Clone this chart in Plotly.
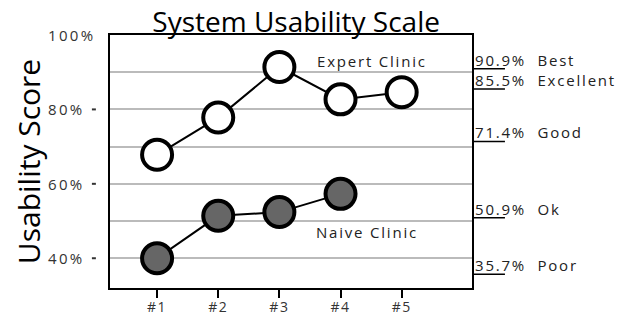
import plotly.graph_objects as go

sessions = [1, 2, 3, 4, 5]
tick_labels = ["#1", "#2", "#3", "#4", "#5"]
expert = [67.8, 77.8, 91.4, 82.7, 84.6]
naive_x = [1, 2, 3, 4]
naive = [40.0, 51.4, 52.4, 57.3]
ytick_vals = [40, 60, 80, 100]
ytick_text = ["40%", "60%", "80%", "100%"]
scale_vals = [90.9, 85.5, 71.4, 50.9, 35.7]
scale_names = ["Best", "Excellent", "Good", "Ok", "Poor"]

FONT = "Open Sans"
# the page body has an 8px margin; size the figure so it fits the 629x316 window
W, H = 621, 308


def sp(t, ls=1.5):
    return f'<span style="letter-spacing:{ls}px">{t}</span>'


fig = go.Figure()
fig.add_trace(go.Scatter(
    x=sessions, y=expert, mode="lines+markers",
    line=dict(color="black", width=2),
    marker=dict(size=30, color="white", line=dict(color="black", width=4)),
    showlegend=False))
fig.add_trace(go.Scatter(
    x=naive_x, y=naive, mode="lines+markers",
    line=dict(color="black", width=2),
    marker=dict(size=30, color="#666666", line=dict(color="black", width=4)),
    showlegend=False))

# series labels
fig.add_annotation(x=4.52, y=93.0, text=sp("Expert Clinic", 1.8), showarrow=False,
                   font=dict(family=FONT, size=15, color="#222"))
fig.add_annotation(x=4.44, y=47.0, text=sp("Naive Clinic", 1.8), showarrow=False,
                   font=dict(family=FONT, size=15, color="#222"))

# SUS scale markers on right
for v, n in zip(scale_vals, scale_names):
    fig.add_shape(type="line", xref="paper", yref="y", x0=1.0, x1=1.091,
                  y0=v, y1=v, line=dict(color="black", width=1.5))
    fig.add_annotation(xref="paper", yref="y", x=1.004, y=v, xanchor="left",
                       yanchor="bottom", yshift=-3,
                       text=sp(f"{v:.1f}%&nbsp;&nbsp;{n}", 1.8),
                       showarrow=False, font=dict(family=FONT, size=15, color="#222"))

# left-aligned y tick labels
for v, t in zip(ytick_vals, ytick_text):
    fig.add_annotation(xref="paper", yref="y", x=-0.176, y=v, xanchor="left",
                       yanchor="middle", text=sp(t, 2.3), showarrow=False,
                       font=dict(family=FONT, size=15, color="#333"))

# small detached tick marks on left
for v in ytick_vals[:-1]:
    fig.add_shape(type="line", xref="paper", yref="y", x0=-0.050, x1=-0.039,
                  y0=v, y1=v, line=dict(color="#333", width=2))

fig.update_layout(
    width=W, height=H,
    margin=dict(l=102, r=157, t=27, b=28),
    paper_bgcolor="white", plot_bgcolor="white",
    title=dict(text="System Usability Scale", x=0.464, xanchor="center",
               y=0.986, yanchor="top",
               font=dict(family=FONT, size=28, color="black")),
    font=dict(family=FONT),
)
fig.update_xaxes(
    range=[0.23, 6.15], tickvals=sessions, ticktext=[sp(t, 1.5) for t in tick_labels],
    showgrid=False, zeroline=False, automargin=False,
    showline=True, linecolor="black", linewidth=2, mirror=True,
    ticks="outside", ticklen=8, tickwidth=2, tickcolor="black",
    ticklabelstandoff=-3,
    tickfont=dict(family=FONT, size=14, color="#333"))
fig.update_yaxes(
    range=[32, 100], tickvals=ytick_vals, showticklabels=False,
    showgrid=True, gridcolor="#bbbbbb", gridwidth=2,
    minor=dict(tickvals=[50, 70, 90], showgrid=True, gridcolor="#bbbbbb", gridwidth=2),
    zeroline=False, showline=True, linecolor="black", linewidth=2, mirror=True,
    ticks="", automargin=False,
    title=dict(text="Usability Score", font=dict(family=FONT, size=30, color="black"),
               standoff=67))

fig.write_html("out.html")
